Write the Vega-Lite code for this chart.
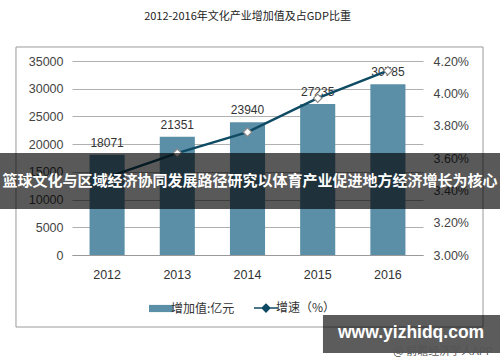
{
  "$schema": "https://vega.github.io/schema/vega-lite/v6.json",
  "width": 351,
  "height": 194,
  "autosize": "none",
  "padding": {"left": 72, "top": 61, "right": 77, "bottom": 107},
  "background": "white",
  "title": {"text": "2012-2016年文化产业增加值及占GDP比重", "font": "Noto Sans CJK SC", "fontSize": 11, "fontWeight": "normal", "color": "#222", "anchor": "middle", "offset": 24},
  "config": {"view": {"stroke": null}},
  "data": {"values": [
    {"year": "2012", "value": 18071, "rate": 0.0348},
    {"year": "2013", "value": 21351, "rate": 0.0363},
    {"year": "2014", "value": 23940, "rate": 0.0376},
    {"year": "2015", "value": 27235, "rate": 0.0397},
    {"year": "2016", "value": 30785, "rate": 0.0414}
  ]},
  "resolve": {"scale": {"x": "independent", "y": "independent"}},
  "layer": [
    {
      "data": {"values": [{"grid": 0}]},
      "mark": {"type": "rect", "opacity": 0},
      "encoding": {
        "y": {"field": "grid", "type": "quantitative", "scale": {"domain": [0, 35000], "nice": false, "zero": false},
              "axis": {"orient": "left", "title": null, "values": [0, 5000, 10000, 15000, 20000, 25000, 30000, 35000], "grid": true, "gridColor": "#b0b0b0", "gridWidth": 1, "gridOpacity": 1, "labels": false, "domain": false, "ticks": false, "zindex": 0}},
        "y2": {"field": "grid"}
      }
    },
    {
      "encoding": {
        "x": {"field": "year", "type": "ordinal", "scale": {"paddingInner": 0.5, "paddingOuter": 0.25},
              "axis": {"title": null, "labelAngle": 0, "ticks": false, "domainColor": "#999", "labelPadding": 13, "labelFont": "Liberation Sans", "labelFontSize": 12.5, "labelColor": "#333"}},
        "y": {"field": "value", "type": "quantitative", "scale": {"domain": [0, 35000], "nice": false},
              "axis": {"orient": "left", "title": null, "values": [0, 5000, 10000, 15000, 20000, 25000, 30000, 35000], "labelOverlap": false, "grid": false, "domain": false, "ticks": false, "labelPadding": 9, "labelFont": "Liberation Sans", "labelFontSize": 12.5, "labelColor": "#444", "format": "d"}}
      },
      "layer": [
        {
          "mark": {"type": "bar"},
          "encoding": {
            "color": {"datum": "增加值:亿元",
                      "scale": {"domain": ["增加值:亿元", "增速（%）"], "range": ["#5b8fa8", "#0e4a63"]},
                      "legend": {"title": null, "orient": "none", "legendX": 83, "legendY": 241, "direction": "horizontal", "columnPadding": 16, "labelOffset": 4, "symbolSize": 576, "labelFont": "Noto Sans CJK SC", "labelFontSize": 12, "labelColor": "#333",
                        "encode": {"symbols": {"update": {
                          "shape": {"signal": "datum.value == '增速（%）' ? 'M-1,0H-0.34M0.34,0H1M0,-0.32L0.32,0L0,0.32L-0.32,0Z' : 'M-1,-0.3H1V0.3H-1Z'"},
                          "fill": {"signal": "datum.value == '增速（%）' ? 'white' : '#5b8fa8'"},
                          "stroke": {"signal": "datum.value == '增速（%）' ? '#0e4a63' : '#5b8fa8'"},
                          "strokeWidth": {"signal": "datum.value == '增速（%）' ? 1.5 : 0"},
                          "opacity": {"value": 1}
                        }}}}}
          }
        },
        {
          "mark": {"type": "text", "baseline": "bottom", "dy": -5, "font": "Liberation Sans", "fontSize": 12, "color": "#333"},
          "encoding": {
            "text": {"field": "value", "type": "quantitative", "format": "d"}
          }
        }
      ]
    },
    {
      "encoding": {
        "x": {"field": "year", "type": "ordinal", "scale": {"paddingInner": 0.5, "paddingOuter": 0.25}, "axis": null},
        "y": {"field": "rate", "type": "quantitative", "scale": {"domain": [0.03, 0.042], "nice": false, "zero": false},
              "axis": {"orient": "right", "title": null, "format": ".2%", "values": [0.03, 0.032, 0.034, 0.036, 0.038, 0.04, 0.042], "labelOverlap": false, "grid": false, "domain": false, "ticks": false, "labelPadding": 10, "labelFont": "Liberation Sans", "labelFontSize": 12.5, "labelColor": "#444"}}
      },
      "layer": [
        {
          "mark": {"type": "line", "strokeWidth": 2.5},
          "encoding": {
            "color": {"datum": "增速（%）"}
          }
        },
        {
          "mark": {"type": "point", "shape": "diamond", "filled": true, "fill": "white", "stroke": "#8a8a8a", "strokeWidth": 1.2, "size": 70, "opacity": 1}
        }
      ]
    },
    {
      "data": {"values": [{"banner": "篮球文化与区域经济协同发展路径研究以体育产业促进地方经济增长为核心", "site": "www.yizhidq.com", "app": "@ 前瞻经济学人APP"}]},
      "layer": [
        {
          "mark": {"type": "rect", "fill": null, "fillOpacity": 0, "stroke": "#9a9a9a", "strokeWidth": 1},
          "encoding": {
            "x": {"datum": -0.798, "type": "quantitative", "scale": {"domain": [0, 5], "nice": false, "zero": false}, "axis": null},
            "x2": {"datum": 5.855},
            "y": {"datum": 37526, "type": "quantitative", "scale": {"domain": [0, 35000], "nice": false, "zero": false}, "axis": null},
            "y2": {"datum": -12990}
          }
        },
        {
          "mark": {"type": "rect", "color": "black", "opacity": 0.65},
          "encoding": {
            "x": {"datum": -1.03, "type": "quantitative"},
            "x2": {"datum": 6.1},
            "y": {"datum": 18400, "type": "quantitative"},
            "y2": {"datum": 8300}
          }
        },
        {
          "mark": {"type": "text", "font": "Noto Sans CJK SC", "fontSize": 15, "fontWeight": "bold", "color": "white", "align": "center", "baseline": "middle"},
          "encoding": {
            "x": {"datum": 2.535, "type": "quantitative"},
            "y": {"datum": 13350, "type": "quantitative"},
            "text": {"field": "banner"}
          }
        },
        {
          "mark": {"type": "rect", "color": "black", "opacity": 0.64},
          "encoding": {
            "x": {"datum": 3.575, "type": "quantitative"},
            "x2": {"datum": 6.1},
            "y": {"datum": -10825, "type": "quantitative"},
            "y2": {"datum": -17680}
          }
        },
        {
          "mark": {"type": "text", "font": "Liberation Sans", "fontSize": 17.5, "fontWeight": "bold", "color": "white", "align": "center", "baseline": "middle"},
          "encoding": {
            "x": {"datum": 4.83, "type": "quantitative"},
            "y": {"datum": -14072, "type": "quantitative"},
            "text": {"field": "site"}
          }
        },
        {
          "mark": {"type": "text", "font": "Noto Sans CJK SC", "fontSize": 11, "color": "#555", "align": "center", "baseline": "middle"},
          "encoding": {
            "x": {"datum": 5.285, "type": "quantitative"},
            "y": {"datum": -17500, "type": "quantitative"},
            "text": {"field": "app"}
          }
        }
      ]
    }
  ]
}
